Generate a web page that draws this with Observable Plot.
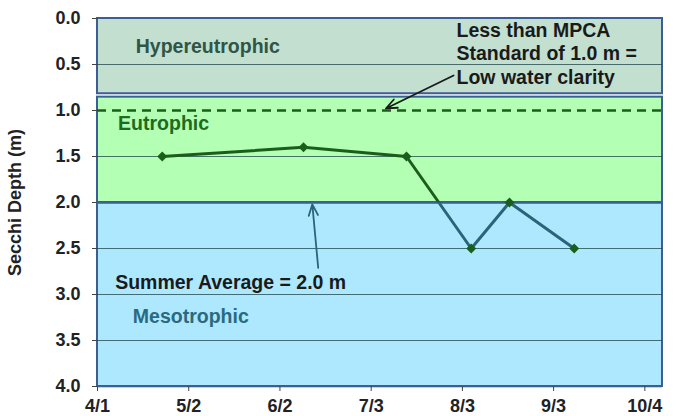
<!DOCTYPE html>
<html><head><meta charset="utf-8">
<script src="https://cdn.jsdelivr.net/npm/d3@7"></script>
<script src="https://cdn.jsdelivr.net/npm/@observablehq/plot@0.6"></script>
<style>body{margin:0;background:#fff} svg{display:block}</style>
</head><body><div id="chart"></div>
<script>
// ---- data ----
const sampleDates = ["2008-04-23","2008-06-10","2008-07-15","2008-08-06","2008-08-19","2008-09-10"];
const secchiDepth = [1.5, 1.4, 1.5, 2.5, 2.0, 2.5];
const xTickDates = ["2008-04-01","2008-05-02","2008-06-02","2008-07-03","2008-08-03","2008-09-03","2008-10-04"];
const xDomain = ["2008-04-01","2008-10-10"];
const yTicks = [0, 0.5, 1, 1.5, 2, 2.5, 3, 3.5, 4];
const gridTicks = [0.5, 1.5, 2.5, 3, 3.5];
const zoneNames = ["Hypereutrophic", "Eutrophic", "Mesotrophic"];
const zoneTop = [0, 0.855, 2.0];
const zoneBottom = [0.818, 2.0, 4.0];
const zoneLabelDate = ["2008-04-14", "2008-04-08", "2008-04-13"];
const zoneLabelDepth = [0.37, 1.21, 3.315];
const mpcaStandard = 1.0;
const summerAverage = 2.0;
const notes = ["Less than MPCA\nStandard of 1.0 m =\nLow water clarity", "Summer Average = 2.0 m"];
const noteDate = ["2008-08-01", "2008-04-07"];
const noteDepth = [0.707, 2.935];
const arrowFromDate = ["2008-07-31", "2008-06-15"];
const arrowFromDepth = [0.62, 2.71];
const arrowToDate = ["2008-07-08", "2008-06-13"];
const arrowToDepth = [0.978, 2.02];

// ---- styles ----
const zoneFill = {Hypereutrophic: "#c3dfd0", Eutrophic: "#b3ffb3", Mesotrophic: "#aee8ff"};
const zoneText = {Hypereutrophic: "#2e5546", Eutrophic: "#1e6b1e", Mesotrophic: "#2a6a80"};
const green = "#1b5e1b", blue = "#2a6478";
const W = 686, H = 416;

const D = s => new Date(s + "T00:00:00Z");
const series = sampleDates.map((d, i) => ({date: D(d), depth: secchiDepth[i]}));
const zones = zoneNames.map((n, i) => ({name: n, top: zoneTop[i], bottom: zoneBottom[i], date: D(zoneLabelDate[i]), label: zoneLabelDepth[i]}));
const noteRows = notes.map((t, i) => ({text: t, date: D(noteDate[i]), depth: noteDepth[i]}));
const arrows = arrowFromDate.map((d, i) => ({x1: D(d), y1: arrowFromDepth[i], x2: D(arrowToDate[i]), y2: arrowToDepth[i], c: i === 0 ? "#1a1a1a" : blue}));
const x0 = D(xDomain[0]), x1 = D(xDomain[1]);
const grad = "url(#depthGrad)";

const plot = Plot.plot({
  width: W, height: H,
  marginLeft: 97, marginRight: 24, marginTop: 18, marginBottom: 30,
  style: {fontFamily: "'Liberation Sans', Arial, sans-serif", fontSize: "18px", fontWeight: "bold", color: "#222", background: "#fff"},
  x: {type: "utc", domain: [x0, x1]},
  y: {domain: [0, 4], reverse: true},
  marks: [
    Plot.ruleY([4], {stroke: "#444", strokeWidth: 1.5}),
    Plot.rect(zones, {x1: () => x0, x2: () => x1, y1: "top", y2: "bottom", fill: d => zoneFill[d.name], stroke: "#3b5f94", strokeWidth: 2}),
    Plot.ruleY(gridTicks, {stroke: "#1c4448", strokeOpacity: 0.75, strokeWidth: 1}),
    Plot.ruleY(zoneBottom.slice(1, 2), {stroke: "#3b5f94", strokeWidth: 2.5}),
    Plot.ruleY([mpcaStandard], {stroke: green, strokeWidth: 2.5, strokeDasharray: "9,6"}),
    Plot.text(zones, {x: "date", y: "label", text: "name", fill: d => zoneText[d.name], textAnchor: "start", lineAnchor: "bottom", fontSize: 19.5}),
    Plot.text(noteRows, {x: "date", y: "depth", text: "text", fill: "#1a1a1a", textAnchor: "start", lineAnchor: "bottom", fontSize: 19.5, lineHeight: 1.2}),
    Plot.arrow(arrows, {x1: "x1", y1: "y1", x2: "x2", y2: "y2", stroke: "c", strokeWidth: 1.8, headLength: 10, headAngle: 45}),
    Plot.line(series, {x: "date", y: "depth", stroke: grad, strokeWidth: 3}),
    Plot.dot(series, {x: "date", y: "depth", symbol: "diamond2", r: 4.5, fill: grad, stroke: "none"}),
    Plot.axisY({ticks: yTicks, tickFormat: d3.format(".1f"), tickSize: 5, tickPadding: 12, stroke: "#444",
      label: "Secchi Depth (m)", labelAnchor: "center", labelArrow: "none", labelOffset: 89}),
    Plot.axisX({ticks: xTickDates.map(D), tickFormat: d3.utcFormat("%-m/%-d"), tickSize: 5, tickPadding: 8, stroke: "#444", label: null})
  ]
});

// gradient: green above the eutrophic/mesotrophic boundary, blue below it
const ys = plot.scale("y");
const t = ys.apply(zoneBottom[1]) / H;
const svg = d3.select(plot);
const lg = svg.insert("defs", ":first-child").append("linearGradient")
  .attr("id", "depthGrad").attr("gradientUnits", "userSpaceOnUse")
  .attr("x1", 0).attr("y1", 0).attr("x2", 0).attr("y2", H);
lg.append("stop").attr("offset", t).attr("stop-color", green);
lg.append("stop").attr("offset", t).attr("stop-color", blue);

document.getElementById("chart").append(plot);
</script>
</body></html>
